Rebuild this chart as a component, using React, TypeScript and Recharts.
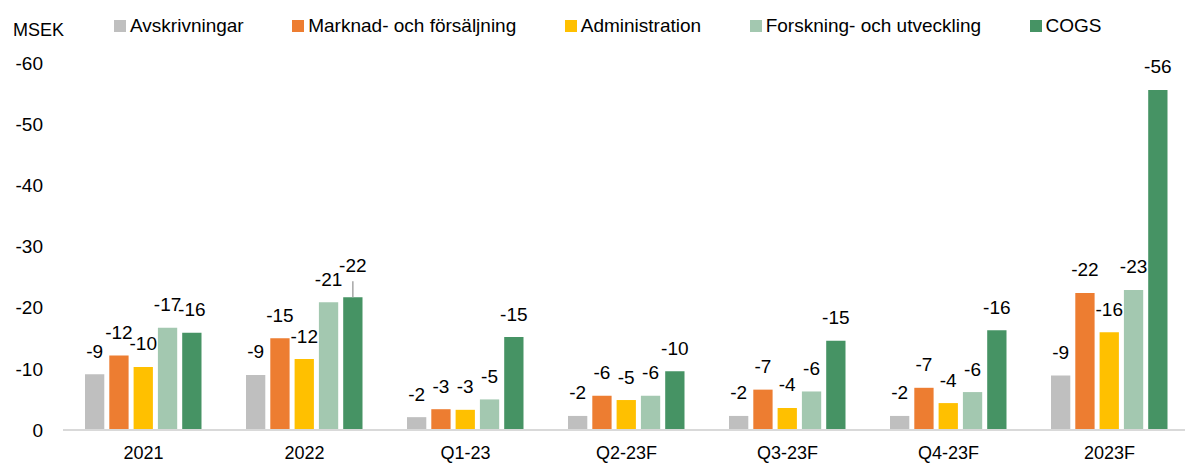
import React from 'react';
import { BarChart, Bar, XAxis, YAxis, LabelList } from 'recharts';

const categories = ['2021', '2022', 'Q1-23', 'Q2-23F', 'Q3-23F', 'Q4-23F', '2023F'];
const avskrivningar = [-9.1, -9.0, -2.1, -2.3, -2.3, -2.3, -8.9];
const marknad = [-12.2, -15.0, -3.4, -5.6, -6.6, -6.9, -22.4];
const administration = [-10.3, -11.6, -3.3, -4.9, -3.6, -4.4, -16.0];
const forskning = [-16.7, -20.9, -5.0, -5.6, -6.3, -6.2, -22.9];
const cogs = [-15.9, -21.7, -15.2, -9.6, -14.6, -16.3, -55.6];
const yTicks = [0, -10, -20, -30, -40, -50, -60];
const unitLabel = 'MSEK';

const seriesNames = ['Avskrivningar', 'Marknad- och försäljning', 'Administration', 'Forskning- och utveckling', 'COGS'];
const seriesKeys = ['avskrivningar', 'marknad', 'administration', 'forskning', 'cogs'];
const seriesColors = ['#BFBFBF', '#ED7D31', '#FFC000', '#A3C8B0', '#469364'];

const data = categories.map((c, i) => ({
  category: c,
  avskrivningar: avskrivningar[i],
  marknad: marknad[i],
  administration: administration[i],
  forskning: forskning[i],
  cogs: cogs[i],
}));

const FONT = '"Liberation Sans", Arial, sans-serif';

const makeLabel = (leaderIndex: number) => (props: any) => {
  const { x, y, width, height, value, index } = props;
  const top = Math.min(Number(y), Number(y) + Number(height));
  const cx = Number(x) + Number(width) / 2;
  const lift = index === leaderIndex ? 8.5 : 0;
  return (
    <g>
      {lift > 0 && (
        <line x1={cx} x2={cx} y1={top} y2={top - 16} stroke="#A6A6A6" strokeWidth={1.5} />
      )}
      <text x={cx} y={top - 16.5 - lift} textAnchor="middle" fontSize={19} fontFamily={FONT} fill="#000">
        {'-' + Math.round(Math.abs(Number(value)))}
      </text>
    </g>
  );
};

export default function App() {
  return (
    <div
      style={{
        position: 'fixed',
        left: 0,
        top: 0,
        width: 1185,
        height: 463,
        overflow: 'hidden',
        background: '#fff',
        fontFamily: FONT,
      }}
    >
      <div
        style={{
          position: 'absolute',
          left: 13,
          top: 21,
          fontSize: 18,
          lineHeight: '18px',
          color: '#000',
        }}
      >
        {unitLabel}
      </div>
      <div
        style={{
          position: 'absolute',
          left: 114,
          top: 16,
          display: 'flex',
          alignItems: 'center',
          gap: 48.5,
          fontSize: 19,
          lineHeight: '19px',
          color: '#000',
          whiteSpace: 'nowrap',
        }}
      >
        {seriesNames.map((n, i) => (
          <div key={n} style={{ display: 'flex', alignItems: 'center' }}>
            <span
              style={{
                display: 'inline-block',
                width: 12,
                height: 12,
                background: seriesColors[i],
                marginRight: 4,
              }}
            />
            <span>{n}</span>
          </div>
        ))}
      </div>
      <BarChart
        width={1195}
        height={463}
        data={data}
        margin={{ top: 63, right: 5, bottom: 0, left: 0 }}
        barSize={19.3}
        barGap={5}
      >
        <XAxis
          dataKey="category"
          height={33}
          axisLine={{ stroke: '#D9D9D9', strokeWidth: 2 }}
          tickLine={false}
          tickSize={0}
          tickMargin={16}
          tick={{ fontSize: 18, fill: '#000', fontFamily: FONT }}
          interval={0}
        />
        <YAxis
          width={63}
          domain={[-60, 0]}
          reversed
          ticks={yTicks}
          axisLine={false}
          tickLine={false}
          tickSize={0}
          tickMargin={20}
          tick={{ fontSize: 19, fill: '#000', fontFamily: FONT }}
          interval={0}
        />
        {seriesKeys.map((k, i) => (
          <Bar key={k} dataKey={k} name={seriesNames[i]} fill={seriesColors[i]} isAnimationActive={false}>
            <LabelList dataKey={k} content={makeLabel(k === 'cogs' ? 1 : -1)} />
          </Bar>
        ))}
      </BarChart>
    </div>
  );
}
